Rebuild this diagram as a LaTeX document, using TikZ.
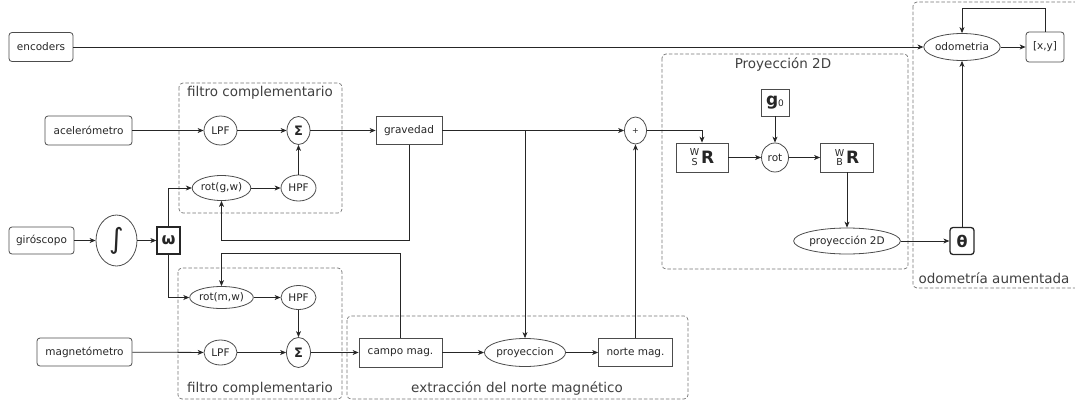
\documentclass[tikz,border=0pt]{standalone}
\usepackage{fontspec}
\setmainfont{DejaVu Sans}
\usetikzlibrary{arrows.meta,shapes.geometric}
\newcommand{\RRot}[2]{\raisebox{-2pt}{\fontsize{9.5}{8}\selectfont\shortstack{#1\\#2}}\,{\fontsize{17}{17}\selectfont\bfseries R}}
\begin{document}
\begin{tikzpicture}[x=1pt,y=-1pt,
  every node/.style={font=\fontsize{10.5}{12}\selectfont, text=black!85},
  base/.style={draw=black!70, line width=0.8pt, inner sep=0pt, align=center},
  sz/.style 2 args={minimum width=#1pt, minimum height=#2pt},
  rbox/.style={base, rectangle, rounded corners=3pt},
  sbox/.style={base, rectangle},
  ell/.style={base, ellipse},
  thickbox/.style={line width=1.3pt, draw=black!85},
  grp/.style={draw=black!55, line width=0.7pt, dash pattern=on 3.5pt off 2pt, rounded corners=4pt},
  title/.style={font=\fontsize{13.5}{14}\selectfont, text=black!75},
  arr/.style={draw=black!85, line width=0.8pt, -{Stealth[length=6pt,width=5pt,inset=1.8pt]}},
  ln/.style={draw=black!85, line width=0.8pt}
]
\path[use as bounding box] (0,0) rectangle (1075,407);

% groups
\draw[grp] (179,83) rectangle (342,213);
\node[title] (t1) at (260,93) {filtro complementario};
\draw[grp] (178,268) rectangle (342,399);
\node[title] (t2) at (260,389) {filtro complementario};
\draw[grp] (347,316) rectangle (688,399);
\node[title] (t3) at (517,388) {extracción del norte magnético};
\draw[grp] (662,54) rectangle (908,269);
\node[title] (t4) at (783,65) {Proyección 2D};
\draw[grp] (913,2) rectangle (1085,288);
\node[title, anchor=west] (t5) at (915,278) {odometría aumentada};

% inputs
\node[rbox, sz={64}{29}] (enc) at (41,47) {encoders};
\node[rbox, sz={87}{29}] (acc) at (88.5,130.5) {acelerómetro};
\node[rbox, sz={65}{27}] (gyr) at (41.5,240.5) {giróscopo};
\node[rbox, sz={95}{28}] (mag) at (84.5,352) {magnetómetro};

% filter 1
\node[ell, sz={33}{29}] (lpf1) at (220.5,130.5) {LPF};
\node[ell, sz={23}{28}] (sig1) at (298.5,130.5) {\fontsize{13}{13}\selectfont\bfseries Σ};
\node[ell, sz={57}{25}] (rotg) at (221.5,188) {rot(g,w)};
\node[ell, sz={35}{26}] (hpf1) at (298.5,188) {HPF};

% gyro
\node[ell, sz={41}{51}] (int) at (116.5,240.5) {\fontsize{28}{28}\selectfont ∫};
\node[sbox, thickbox, sz={23}{27}] (om) at (168.5,240.5) {\fontsize{16}{16}\selectfont\bfseries ω};

% filter 2
\node[ell, sz={61}{22}] (rotm) at (221.5,297.5) {rot(m,w)};
\node[ell, sz={35}{24}] (hpf2) at (298.5,297.5) {HPF};
\node[ell, sz={33}{25}] (lpf2) at (220.5,352.5) {LPF};
\node[ell, sz={24}{30}] (sig2) at (298.5,352.5) {\fontsize{13}{13}\selectfont\bfseries Σ};

% middle
\node[sbox, sz={66}{28}] (grav) at (409,130.5) {gravedad};
\node[ell, sz={22}{27}] (plus) at (635.5,130.5) {\fontsize{8}{8}\selectfont +};
\node[sbox, sz={83}{29}] (campo) at (400.5,352.5) {campo mag.};
\node[ell, sz={73}{28}] (proy) at (525,352.5) {proyeccion};
\node[sbox, sz={74}{28}] (norte) at (635.5,352.5) {norte mag.};
\coordinate (br) at (525,130.5);

% proyeccion 2D
\node[sbox, sz={28}{27}] (g0) at (775,102.5) {{\fontsize{17}{17}\selectfont\bfseries g}\raisebox{-1.5pt}{\fontsize{9}{9}\selectfont 0}};
\node[sbox, sz={52}{29}] (wsr) at (702,157.5) {\RRot{W}{S}};
\node[ell, sz={27}{29}] (rotc) at (775,157.5) {rot};
\node[sbox, sz={53}{29}] (wbr) at (847,157.5) {\RRot{W}{B}};
\node[ell, sz={91}{26}] (p2d) at (847,241) {proyección 2D};

% odometria
\node[ell, sz={71}{27}] (odo) at (962,47) {odometria};
\node[rbox, sz={38}{30}] (xy) at (1045,47) {[x,y]};
\node[rbox, thickbox, sz={24}{27}] (th) at (962,241) {\fontsize{16}{16}\selectfont\bfseries θ};

% connectors
\draw[arr] (enc) -- (odo);
\draw[arr] (acc) -- (lpf1);
\draw[arr] (lpf1) -- (sig1);
\draw[arr] (rotg) -- (hpf1);
\draw[arr] (hpf1) -- (sig1);
\draw[arr] (sig1) -- (grav);
\draw[arr] (grav) -- (plus);
\draw[arr] (br) -- (proy);
\draw[arr] (grav.south) -- ++(0,95.5) -| (rotg.south);
\draw[arr] (gyr) -- (int);
\draw[arr] (int) -- (om);
\draw[arr] (om.north) |- (rotg.west);
\draw[arr] (om.south) |- (rotm.west);
\draw[arr] (campo.north) -- ++(0,-84) -| (rotm.north);
\draw[arr] (rotm) -- (hpf2);
\draw[arr] (hpf2) -- (sig2);
\draw[arr] (mag) -- (lpf2);
\draw[arr] (lpf2) -- (sig2);
\draw[arr] (sig2) -- (campo);
\draw[arr] (campo) -- (proy);
\draw[arr] (proy) -- (norte);
\draw[arr] (norte) -- (plus);
\draw[arr] (plus.east) -| (wsr.north);
\draw[arr] (wsr) -- (rotc);
\draw[arr] (g0) -- (rotc);
\draw[arr] (rotc) -- (wbr);
\draw[arr] (wbr) -- (p2d);
\draw[arr] (p2d) -- (th);
\draw[arr] (th) -- (odo);
\draw[arr] (odo) -- (xy);
\draw[arr] (xy.north) -- ++(0,-23) -| (odo.north);
\end{tikzpicture}
\end{document}
